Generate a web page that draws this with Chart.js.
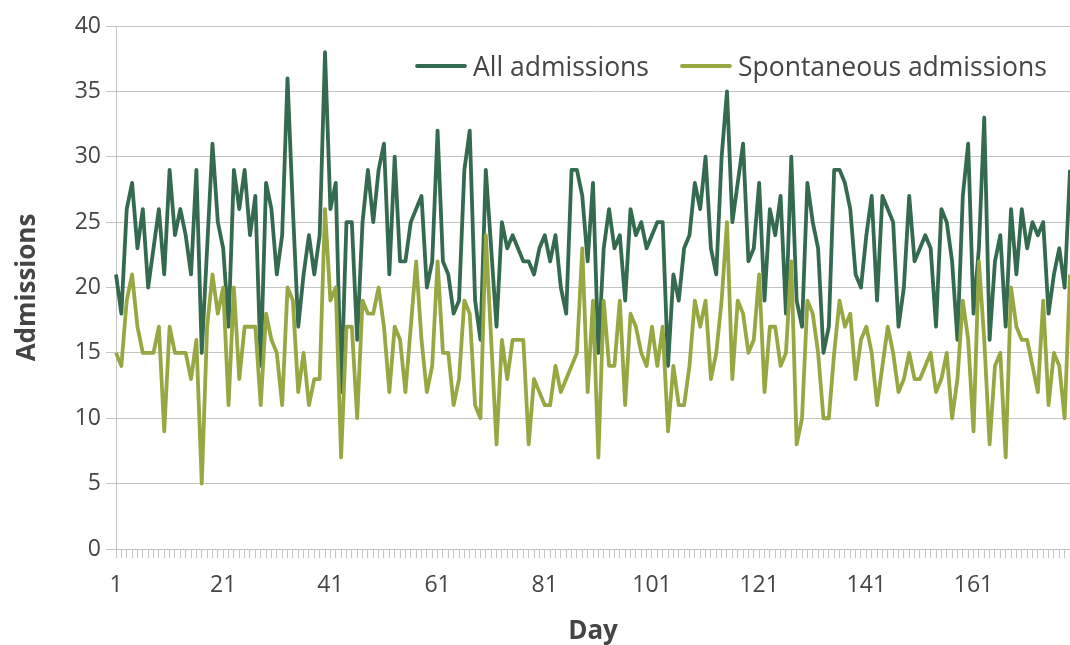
<!DOCTYPE html>
<html>
<head>
<meta charset="utf-8">
<script src="https://cdn.jsdelivr.net/npm/chart.js@4.4.1/dist/chart.umd.min.js"></script>
<style>
  html, body { margin: 0; padding: 0; background: #fff; }
  #wrap { width: 1070px; height: 645px; position: relative; }
</style>
</head>
<body>
<div id="wrap"><canvas id="admChart"></canvas></div>
<script>
// Days 1..179 on the category axis
const days = Array.from({ length: 179 }, (_, i) => String(i + 1));
const dayTickLabels = ['1', '21', '41', '61', '81', '101', '121', '141', '161'];

// Daily admissions
const allAdmissions = [
  21, 18, 26, 28, 23, 26, 20, 23, 26, 21, 29, 24, 26, 24, 21, 29,
  15, 23, 31, 25, 23, 17, 29, 26, 29, 24, 27, 14, 28, 26, 21, 24, 36,
  26, 17, 21, 24, 21, 24, 38, 26, 28, 12, 25, 25, 16, 25, 29, 25, 29,
  31, 21, 30, 22, 22, 25, 26, 27, 20, 22, 32, 22, 21, 18, 19, 29, 32,
  19, 16, 29, 23, 17, 25, 23, 24, 23, 22, 22, 21, 23, 24, 22, 24, 20,
  18, 29, 29, 27, 22, 28, 15, 23, 26, 23, 24, 19, 26, 24, 25, 23, 24,
  25, 25, 14, 21, 19, 23, 24, 28, 26, 30, 23, 21, 30, 35, 25, 28, 31,
  22, 23, 28, 19, 26, 24, 27, 18, 30, 19, 17, 28, 25, 23, 15, 17, 29,
  29, 28, 26, 21, 20, 24, 27, 19, 27, 26, 25, 17, 20, 27, 22, 23,
  24, 23, 17, 26, 25, 22, 16, 27, 31, 18, 23, 33, 16, 22, 24, 17, 26,
  21, 26, 23, 25, 24, 25, 18, 21, 23, 20, 29
];
const spontaneousAdmissions = [
  15, 14, 19, 21, 17, 15, 15, 15, 17, 9, 17, 15, 15, 15, 13, 16,
  5, 17, 21, 18, 20, 11, 20, 13, 17, 17, 17, 11, 18, 16, 15, 11, 20,
  19, 12, 15, 11, 13, 13, 26, 19, 20, 7, 17, 17, 10, 19, 18, 18, 20,
  17, 12, 17, 16, 12, 17, 22, 16, 12, 14, 22, 15, 15, 11, 13, 19, 18,
  11, 10, 24, 16, 8, 16, 13, 16, 16, 16, 8, 13, 12, 11, 11, 14, 12,
  13, 14, 15, 23, 12, 19, 7, 19, 14, 14, 19, 11, 18, 17, 15, 14, 17,
  14, 17, 9, 14, 11, 11, 14, 19, 17, 19, 13, 15, 19, 25, 13, 19, 18,
  15, 16, 21, 12, 17, 17, 14, 15, 22, 8, 10, 19, 18, 15, 10, 10, 15,
  19, 17, 18, 13, 16, 17, 15, 11, 14, 17, 15, 12, 13, 15, 13, 13,
  14, 15, 12, 13, 15, 10, 13, 19, 16, 9, 22, 16, 8, 14, 15, 7, 20,
  17, 16, 16, 14, 12, 19, 11, 15, 14, 10, 21
];

const textColor = '#454545';
const gridColor = '#c4c4c4';
const fontFamily = '"Open Sans", "Noto Sans", sans-serif';

// legend drawn inside the plot, top right, like the original
const insideLegend = {
  id: 'insideLegend',
  afterDraw(chart) {
    const c = chart.ctx;
    let x = 415;
    const y = 66;
    c.save();
    c.font = '26.5px ' + fontFamily;
    c.textBaseline = 'middle';
    c.lineCap = 'round';
    chart.data.datasets.forEach(ds => {
      c.strokeStyle = ds.borderColor;
      c.lineWidth = ds.borderWidth;
      c.beginPath();
      c.moveTo(x + 2, y);
      c.lineTo(x + 50, y);
      c.stroke();
      c.fillStyle = textColor;
      c.fillText(ds.label, x + 58, y + 2);
      x += 58 + c.measureText(ds.label).width + 31;
    });
    c.restore();
  }
};

const ctx = document.getElementById('admChart').getContext('2d');
const admChart = new Chart(ctx, {
  type: 'line',
  data: {
    labels: days,
    datasets: [{
      label: 'All admissions',
      data: allAdmissions,
      borderColor: '#346a4f',
      borderWidth: 3.8,
      pointRadius: 0,
      borderJoinStyle: 'round',
      order: 1
    }, {
      label: 'Spontaneous admissions',
      data: spontaneousAdmissions,
      borderColor: '#97a843',
      borderWidth: 3.8,
      pointRadius: 0,
      borderJoinStyle: 'round',
      order: 0
    }]
  },
  options: {
    responsive: true,
    maintainAspectRatio: false,
    animation: false,
    layout: { padding: { top: 26, right: 0, bottom: 0, left: 0 } },
    plugins: {
      legend: { display: false },
      tooltip: { enabled: false }
    },
    scales: {
      x: {
        offset: false,
        grid: { drawOnChartArea: false, tickLength: 9, color: gridColor },
        border: { color: gridColor },
        ticks: {
          autoSkip: false,
          maxRotation: 0,
          padding: 14,
          color: textColor,
          font: { family: fontFamily, size: 23 },
          callback: function (value) {
            const lbl = this.getLabelForValue(value);
            return dayTickLabels.includes(lbl) ? lbl : '';
          }
        },
        title: {
          display: true,
          text: 'Day',
          color: textColor,
          font: { family: fontFamily, size: 26, weight: 'bold', lineHeight: 1 },
          padding: { top: 0, bottom: 0 }
        },
        afterFit(scale) {
          scale.height = 96;
          scale.paddingLeft = 0;
          scale.paddingRight = 0;
        }
      },
      y: {
        min: 0,
        max: 40,
        ticks: {
          stepSize: 5,
          padding: 5,
          color: textColor,
          font: { family: fontFamily, size: 23 }
        },
        grid: { color: gridColor, tickLength: 10 },
        border: { color: gridColor },
        title: {
          display: true,
          text: 'Admissions',
          color: textColor,
          font: { family: fontFamily, size: 26, weight: 'bold', lineHeight: 1 },
          padding: { top: 15, bottom: 0 }
        },
        afterFit(scale) { scale.width = 116; }
      }
    }
  },
  plugins: [insideLegend]
});
</script>
</body>
</html>
